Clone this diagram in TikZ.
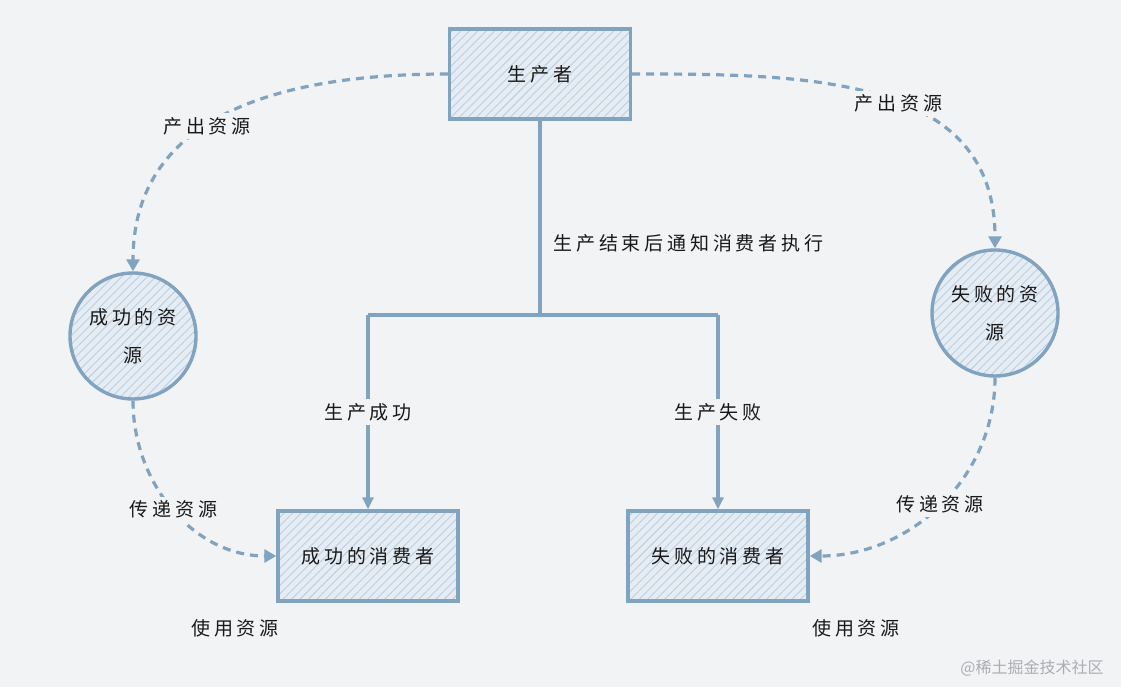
\documentclass[tikz,border=0pt]{standalone}
\usepackage{fontspec}
\newfontfamily\cjk[LetterSpace=20]{Noto Sans CJK SC}
\newfontfamily\markfont{Noto Sans CJK SC}
\usetikzlibrary{arrows.meta,patterns.meta}

\definecolor{edge blue}{RGB}{128,163,192}
\definecolor{fill blue}{RGB}{229,236,243}
\definecolor{hatch blue}{RGB}{188,206,222}
\definecolor{page grey}{RGB}{242,243,245}
\definecolor{ink}{RGB}{25,25,25}

\tikzset{
  hatched/.style={preaction={fill=fill blue},
    pattern={Lines[angle=45,distance=6pt,line width=0.9pt]}, pattern color=hatch blue,
    draw=edge blue, line width=3.4pt, text=ink},
  block/.style={hatched, rectangle, minimum width=181pt, minimum height=90pt},
  resource/.style={hatched, circle, minimum size=126pt, align=center},
  tree line/.style={draw=edge blue, line width=3.2pt},
  tree arrow/.style={tree line, -{Triangle[length=12pt,width=11pt]}},
  pass/.style={draw=edge blue, line width=3.2pt, dash pattern=on 8pt off 6pt,
    -{Triangle[length=12pt,width=13pt]}},
  tag/.style={fill=page grey, text=ink, inner sep=4pt},
}

\begin{document}
\begin{tikzpicture}[x=1pt, y=1pt, font=\cjk\fontsize{19}{22}\selectfont]

    \useasboundingbox (0,0) rectangle (1121,687);
    \fill[page grey] (0,0) rectangle (1121,687);

    % boxes and resources
    \node[block]    (producer)         at (540,613) {生产者};
    \node[resource] (success resource) at (133,351) {成功的资\\[16pt]源};
    \node[resource] (failure resource) at (995,374) {失败的资\\[16pt]源};
    \node[block, minimum width=180pt] (success consumer) at (368,131) {成功的消费者};
    \node[block, minimum width=180pt] (failure consumer) at (718,131) {失败的消费者};

    % the notify tree
    \coordinate (split)        at (producer.south |- 0,372);
    \coordinate (success turn) at (success consumer.north |- split);
    \coordinate (failure turn) at (failure consumer.north |- split);

    \draw[tree line] (producer.south) -- (split);
    \draw[tree line] (success turn) -- (failure turn);
    \draw[tree arrow] (success turn) -- node[tag, pos=0.5] (success tag) {生产成功} (success consumer.north);
    \draw[tree arrow] (failure turn) -- node[tag, pos=0.5] (failure tag) {生产失败} (failure consumer.north);
    \node[text=ink, anchor=west] (notify) at (550,444) {生产结束后通知消费者执行};

    % resources handed round
    \draw[pass] (producer.west) to[out=180, in=90, looseness=1.1]
      node[tag, pos=0.57] (left output) {产出资源} (success resource.north);
    \draw[pass] (producer.east) to[out=0, in=90, looseness=1.1]
      node[tag, pos=0.55] (right output) {产出资源} (failure resource.north);
    \draw[pass] (success resource.south) to[out=-90, in=180]
      node[tag, pos=0.5] (left pass) {传递资源} (success consumer.west);
    \draw[pass] (failure resource.south) to[out=-90, in=0]
      node[tag, pos=0.5] (right pass) {传递资源} (failure consumer.east);

    \node[text=ink] (left use)  at (235,59) {使用资源};
    \node[text=ink] (right use) at (856,59) {使用资源};

    \node[text={rgb,255:red,172;green,172;blue,178}, font=\markfont\fontsize{16}{18}\selectfont]
      (mark) at (1032,19) {@稀土掘金技术社区};
  \end{tikzpicture}
\end{document}
